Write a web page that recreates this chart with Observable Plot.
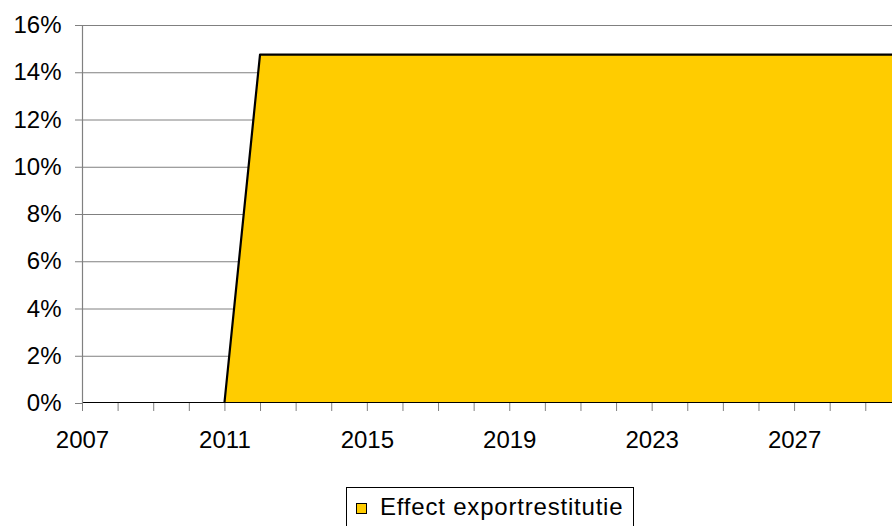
<!DOCTYPE html>
<html>
<head>
<meta charset="utf-8">
<script src="https://cdn.jsdelivr.net/npm/d3@7"></script>
<script src="https://cdn.jsdelivr.net/npm/@observablehq/plot@0.6"></script>
<style>
  html, body { margin: 0; padding: 0; background: #fff; }
  #wrap { position: relative; width: 892px; height: 526px; overflow: hidden; font-family: "Liberation Sans", Arial, sans-serif; }
  #legend { position: absolute; left: 346px; top: 487px; width: 288px; height: 42px; border: 1px solid #000; box-sizing: border-box; background: #fff; }
  #legend .sw { position: absolute; left: 9px; top: 15px; width: 11px; height: 11px; background: #FFCC00; border: 1px solid #000; box-sizing: border-box; }
  #legend .lab { position: absolute; left: 33px; top: 7px; font-size: 24px; line-height: 24px; letter-spacing: 0.8px; color: #000; white-space: nowrap; }
</style>
</head>
<body>
<div id="wrap"><div id="chart"></div>
<div id="legend"><div class="sw"></div><div class="lab">Effect exportrestitutie</div></div></div>
<script>
const years = [2007, 2008, 2009, 2010, 2011, 2012, 2013, 2014, 2015, 2016, 2017, 2018, 2019, 2020, 2021, 2022, 2023, 2024, 2025, 2026, 2027, 2028, 2029, 2030];
const values = [0, 0, 0, 0, 0, 14.75, 14.75, 14.75, 14.75, 14.75, 14.75, 14.75, 14.75, 14.75, 14.75, 14.75, 14.75, 14.75, 14.75, 14.75, 14.75, 14.75, 14.75, 14.75];
const seriesName = "Effect exportrestitutie";
const yTicks = [0, 2, 4, 6, 8, 10, 12, 14, 16];
const xLabelTicks = [2007, 2011, 2015, 2019, 2023, 2027];
const xMinorTicks = years.slice(0, 23);

const data = years.map((y, i) => ({year: y, value: values[i]}));

const chart = Plot.plot({
  width: 892,
  height: 526,
  marginLeft: 82,
  marginRight: 0,
  marginTop: 25,
  marginBottom: 123,
  style: {fontFamily: "'Liberation Sans', Arial, sans-serif", fontSize: "24px", color: "#000", background: "#fff"},
  x: {domain: [2007, 2029.75]},
  y: {domain: [0, 16]},
  marks: [
    Plot.ruleY(yTicks.filter(d => d > 0), {stroke: "#808080", strokeWidth: 1}),
    Plot.areaY(data, {x: "year", y: "value", fill: "#FFCC00", stroke: "#000", strokeWidth: 2.2, clip: true}),
    Plot.ruleX([2007], {y1: 0, y2: 16, stroke: "#808080", strokeWidth: 1.2}),
    Plot.axisY({ticks: yTicks, tickSize: 7, tickPadding: 14, tickFormat: d => d + "%", stroke: "#808080", fontSize: 24, label: null}),
    Plot.axisX({ticks: xMinorTicks, tickSize: 8, tickFormat: () => "", stroke: "#808080", label: null}),
    Plot.axisX({ticks: xLabelTicks, tickSize: 0, tickPadding: 27, tickFormat: d => String(d), fontSize: 24, label: null})
  ]
});
document.getElementById("chart").appendChild(chart);
</script>
</body>
</html>
